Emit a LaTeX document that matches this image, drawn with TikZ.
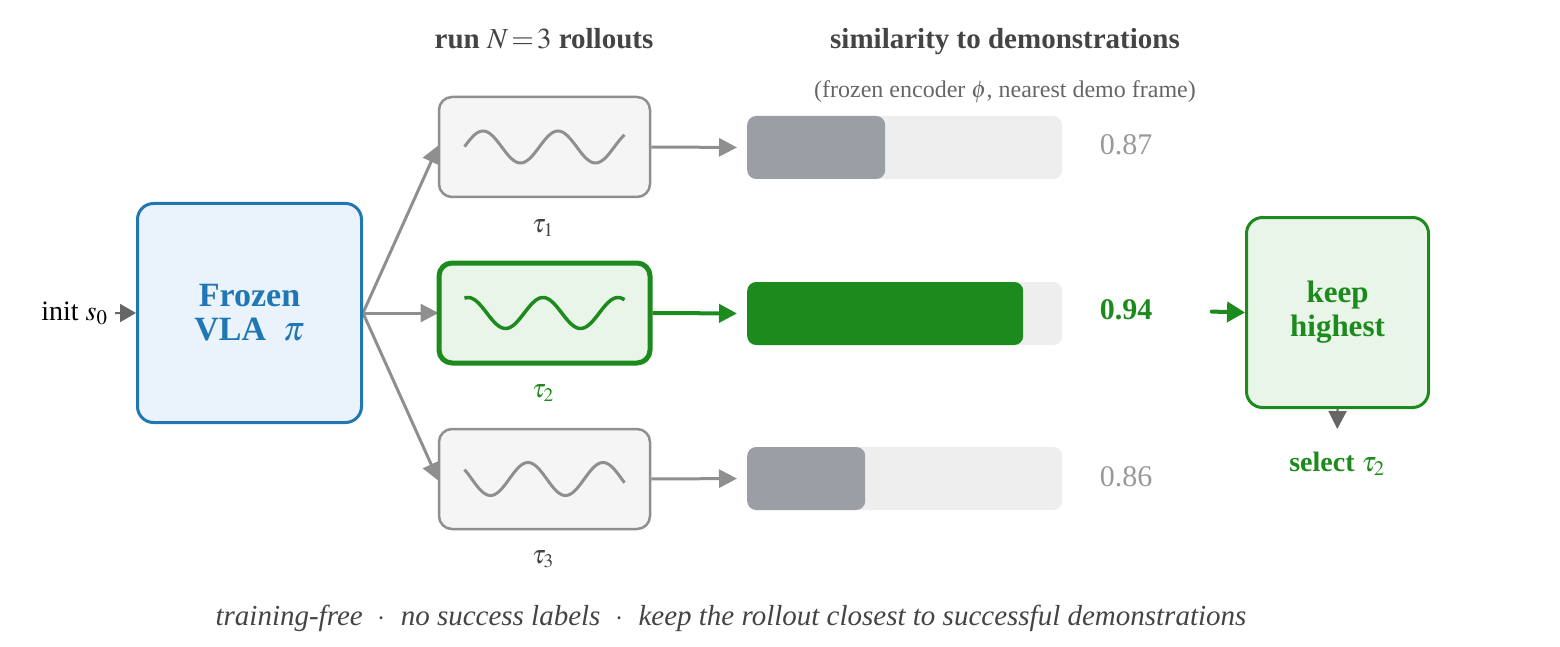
\documentclass[tikz,border=0pt]{standalone}
\usepackage{mathptmx}
\usepackage[no-math]{fontspec}
\setmainfont{Liberation Serif}
\usetikzlibrary{arrows.meta, positioning, backgrounds}
\definecolor{vlablue}{RGB}{31, 119, 180}
\definecolor{vlafill}{RGB}{234, 242, 251}
\definecolor{boxgray}{RGB}{143, 143, 143}
\definecolor{boxfill}{RGB}{245, 245, 245}
\definecolor{selgreen}{RGB}{28, 138, 28}
\definecolor{selfill}{RGB}{232, 245, 232}
\definecolor{barbgcol}{RGB}{238, 238, 238}
\definecolor{bargray}{RGB}{155, 159, 165}
\definecolor{scoregray}{RGB}{153, 153, 153}
\definecolor{headgray}{RGB}{68, 68, 68}
\definecolor{subgray}{RGB}{102, 102, 102}
\definecolor{tipgray}{RGB}{102, 102, 102}

\tikzset{
  rollbox/.style={draw=boxgray, fill=boxfill, line width=2.5pt, rounded corners=13pt,
    minimum width=211pt, minimum height=100pt, inner sep=0pt},
  barbg/.style={fill=barbgcol, rounded corners=9pt, minimum width=315pt,
    minimum height=63pt, inner sep=0pt, anchor=west},
  barfill/.style={fill=#1, rounded corners=9pt, minimum height=63pt, inner sep=0pt, anchor=west},
  flowgray/.style={draw=boxgray, line width=3pt, -{Triangle[length=18pt, width=18pt]}},
  score/.style={font=\fontsize{30}{34}\selectfont, text=scoregray},
  taulabel/.style={font=\fontsize{26}{30}\selectfont, text=headgray},
}

\begin{document}
\begin{tikzpicture}[x=1pt, y=-1pt]
  \useasboundingbox (0, 0) rectangle (1560, 647);

  % Headers
  \node[font=\fontsize{29}{33}\selectfont\bfseries, text=headgray, anchor=base] (hrun) at (544, 49) {run $N\!=\!3$ rollouts};
  \node[font=\fontsize{29}{33}\selectfont\bfseries, text=headgray, anchor=base] (hsim) at (1005, 49) {similarity to demonstrations};
  \node[font=\fontsize{24}{28}\selectfont, text=subgray, anchor=base] (hsub) at (1005, 98) {(frozen encoder $\phi$, nearest demo frame)};

  % Policy
  \node[draw=vlablue, fill=vlafill, line width=3pt, rounded corners=16pt, minimum width=224pt,
    minimum height=219pt, inner sep=0pt, align=center, text=vlablue,
    font=\fontsize{34}{34}\selectfont\bfseries] (vla) at (249.5, 313) {Frozen\\VLA\ \ $\pi$};
  \node[font=\fontsize{28}{32}\selectfont, anchor=base east] (init) at (111, 320) {init $s_0$};
  \draw[draw=tipgray, line width=2pt, shorten <=4pt, -{Triangle[length=16pt, width=18pt]}] (init.east) -- (vla.west);

  % Rollouts
  \node[rollbox] (r1) at (544.5, 147) {};
  \node[rollbox, draw=selgreen, fill=selfill, line width=5pt] (r2) at (544.5, 313) {};
  \node[rollbox] (r3) at (544.5, 479) {};
  \draw[boxgray, line width=3pt, shift={(r1.center)}] plot[domain=-80:80, samples=80] ({\x}, {-16*cos(4.8*(\x-13.5))});
  \draw[selgreen, line width=3.5pt, shift={(r2.center)}] plot[domain=-80:80, samples=80] ({\x}, {-15.5*cos(4.8*(\x+76.5))});
  \draw[boxgray, line width=3pt, shift={(r3.center)}] plot[domain=-80:80, samples=80] ({\x}, {-16.5*cos(4.8*(\x+16.5))});
  \node[taulabel] (t1) at (543, 228) {$\tau_1$};
  \node[taulabel, text=selgreen] (t2) at (543, 393) {$\tau_2$};
  \node[taulabel] (t3) at (543, 559) {$\tau_3$};

  \begin{scope}[on background layer]
    \draw[flowgray, shorten <=-3pt, shorten >=-2pt] (vla.east) -- (r1.west);
    \draw[flowgray, shorten <=-3pt, shorten >=-2pt] (vla.east) -- (r2.west);
    \draw[flowgray, shorten <=-3pt, shorten >=-2pt] (vla.east) -- (r3.west);
  \end{scope}

  % Similarity bars
  \node[barbg] (b1) at (747, 147.5) {};
  \node[barbg] (b2) at (747, 313.5) {};
  \node[barbg] (b3) at (747, 478.5) {};
  \node[barfill=bargray, minimum width=138pt] (f1) at (b1.west) {};
  \node[barfill=selgreen, minimum width=276pt] (f2) at (b2.west) {};
  \node[barfill=bargray, minimum width=118pt] (f3) at (b3.west) {};
  \draw[flowgray, shorten >=10pt] (r1.east) -- (b1.west);
  \draw[draw=selgreen, line width=4pt, shorten >=10pt, -{Triangle[length=18pt, width=18pt]}] (r2.east) -- (b2.west);
  \draw[flowgray, shorten >=10pt] (r3.east) -- (b3.west);

  % Scores
  \node[score] (s1) at (1126, 145) {0.87};
  \node[score, text=selgreen, font=\fontsize{30}{34}\selectfont\bfseries] (s2) at (1126, 310) {0.94};
  \node[score] (s3) at (1126, 477) {0.86};

  % Selection
  \node[draw=selgreen, fill=selfill, line width=3pt, rounded corners=16pt, minimum width=182pt,
    minimum height=190pt, inner sep=0pt, align=center, text=selgreen,
    font=\fontsize{31}{34}\selectfont\bfseries] (keep) at (1337.5, 312.5) {keep\\highest};
  \draw[draw=selgreen, line width=4pt, line cap=round, shorten <=56pt, -{Triangle[length=18pt, width=20pt]}] (s2.east) -- (keep.west);
  \node[font=\fontsize{28}{32}\selectfont\bfseries, text=selgreen, anchor=base] (sel) at (1337, 471) {select $\tau_2$};
  \draw[draw=tipgray, line width=2pt, shorten >=19pt, -{Triangle[length=18pt, width=18pt]}] (keep.south) -- (sel.north);

  % Footnote
  \node[font=\fontsize{29}{33}\selectfont\itshape, text=headgray, anchor=base] (note) at (731, 625)
    {training-free\hspace{15pt}$\cdot$\hspace{15pt}no success labels\hspace{15pt}$\cdot$\hspace{15pt}keep the rollout closest to successful demonstrations};
\end{tikzpicture}
\end{document}
